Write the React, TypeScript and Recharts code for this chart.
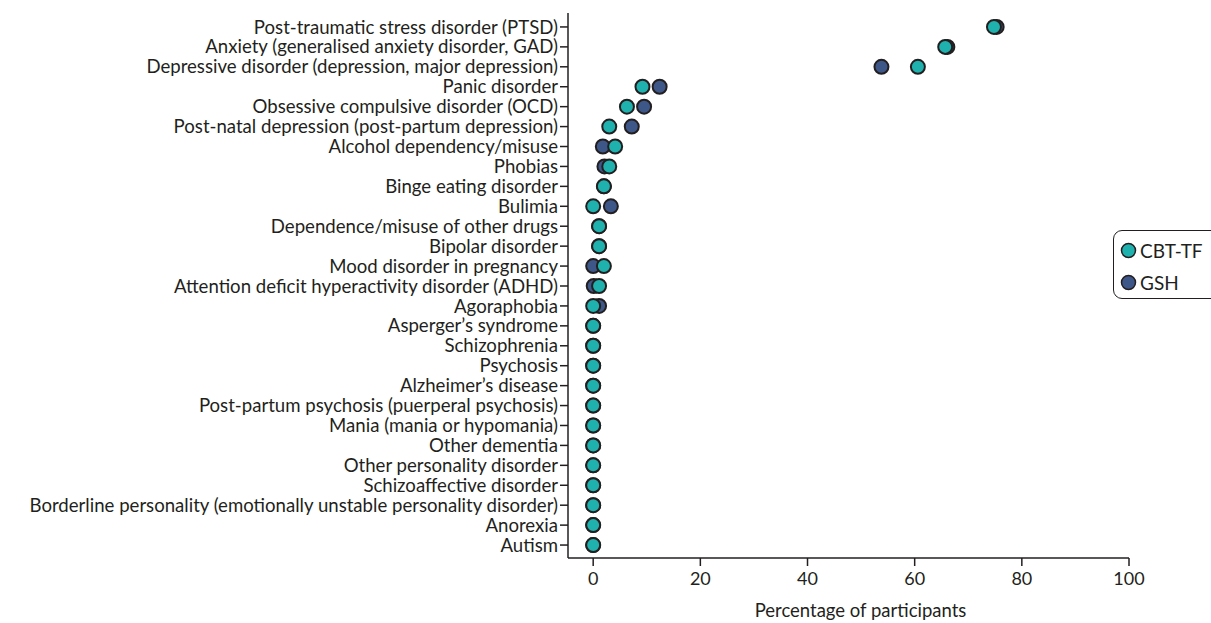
import { ScatterChart, Scatter, XAxis, YAxis } from 'recharts'

const conditions = [
  'Post-traumatic stress disorder (PTSD)',
  'Anxiety (generalised anxiety disorder, GAD)',
  'Depressive disorder (depression, major depression)',
  'Panic disorder',
  'Obsessive compulsive disorder (OCD)',
  'Post-natal depression (post-partum depression)',
  'Alcohol dependency/misuse',
  'Phobias',
  'Binge eating disorder',
  'Bulimia',
  'Dependence/misuse of other drugs',
  'Bipolar disorder',
  'Mood disorder in pregnancy',
  'Attention deficit hyperactivity disorder (ADHD)',
  'Agoraphobia',
  'Asperger\u2019s syndrome',
  'Schizophrenia',
  'Psychosis',
  'Alzheimer\u2019s disease',
  'Post-partum psychosis (puerperal psychosis)',
  'Mania (mania or hypomania)',
  'Other dementia',
  'Other personality disorder',
  'Schizoaffective disorder',
  'Borderline personality (emotionally unstable personality disorder)',
  'Anorexia',
  'Autism',
]

const cbtValues = [74.8, 65.7, 60.6, 9.2, 6.3, 3.0, 4.1, 3.0, 2.0, 0, 1.1, 1.1, 2.0, 1.1, 0, 0, 0, 0, 0, 0, 0, 0, 0, 0, 0, 0, 0]
const gshValues = [75.3, 66.1, 53.8, 12.4, 9.5, 7.2, 1.8, 2.1, 2.0, 3.3, 1.1, 1.1, 0, 0.1, 1.1, 0, 0, 0, 0, 0, 0, 0, 0, 0, 0, 0, 0]

const xTicks = [0, 20, 40, 60, 80, 100]

const legendItems = [
  { label: 'CBT-TF', color: '#1fb1ad' },
  { label: 'GSH', color: '#3e5789' },
]

const TEAL = '#1fb1ad'
const NAVY = '#3e5789'
const INK = '#231f20'
const FONT = 'Lato, "Open Sans", sans-serif'

const cbtData = cbtValues.map((v, i) => ({ x: v, y: i }))
const gshData = gshValues.map((v, i) => ({ x: v, y: i }))

const dot = (fill: string) => (props: any) => (
  <circle cx={props.cx} cy={props.cy} r={7} fill={fill} stroke={INK} strokeWidth={2} />
)

function LegendBox() {
  return (
    <div
      style={{
        position: 'absolute',
        left: 1113,
        top: 230,
        width: 120,
        height: 69,
        boxSizing: 'border-box',
        border: `1.5px solid ${INK}`,
        borderRadius: 9,
        padding: '3px 0 0 6px',
        fontFamily: FONT,
        fontSize: 19,
        color: INK,
        background: '#fff',
        whiteSpace: 'nowrap',
      }}
    >
      {legendItems.map((it) => (
        <div key={it.label} style={{ display: 'flex', alignItems: 'center', height: 32 }}>
          <svg width={17} height={17} style={{ marginRight: 3 }}>
            <circle cx={8.5} cy={8.5} r={7} fill={it.color} stroke={INK} strokeWidth={1.5} />
          </svg>
          {it.label}
        </div>
      ))}
    </div>
  )
}

export default function App() {
  return (
    <div style={{ position: 'relative', width: 1211, height: 623, background: '#fff', overflow: 'hidden' }}>
      <style>{`body{margin:0}`}</style>
      <ScatterChart width={1211} height={623} margin={{ top: 13, right: 82, bottom: 0, left: 0 }}>
        <XAxis
          type="number"
          dataKey="x"
          domain={[-4.7, 100]}
          ticks={xTicks}
          allowDataOverflow
          tickSize={8}
          tickMargin={6}
          height={65}
          stroke={INK}
          strokeWidth={1.5}
          tick={{ fill: INK, fontSize: 18, fontFamily: FONT }}
          label={{ value: 'Percentage of participants', position: 'insideBottom', offset: 6, dx: 12, fill: INK, fontSize: 18.5, fontFamily: FONT }}
        />
        <YAxis
          type="number"
          dataKey="y"
          domain={[-0.7, 26.65]}
          reversed
          ticks={conditions.map((_, i) => i)}
          interval={0}
          tickFormatter={(i: number) => conditions[i] ?? ''}
          width={568}
          tickSize={8}
          stroke={INK}
          strokeWidth={1.5}
          tick={{ fill: INK, fontSize: 18.6, fontFamily: FONT }}
        />
        <Scatter name="GSH" data={gshData} fill={NAVY} shape={dot(NAVY)} isAnimationActive={false} />
        <Scatter name="CBT-TF" data={cbtData} fill={TEAL} shape={dot(TEAL)} isAnimationActive={false} />
      </ScatterChart>
      <LegendBox />
    </div>
  )
}
